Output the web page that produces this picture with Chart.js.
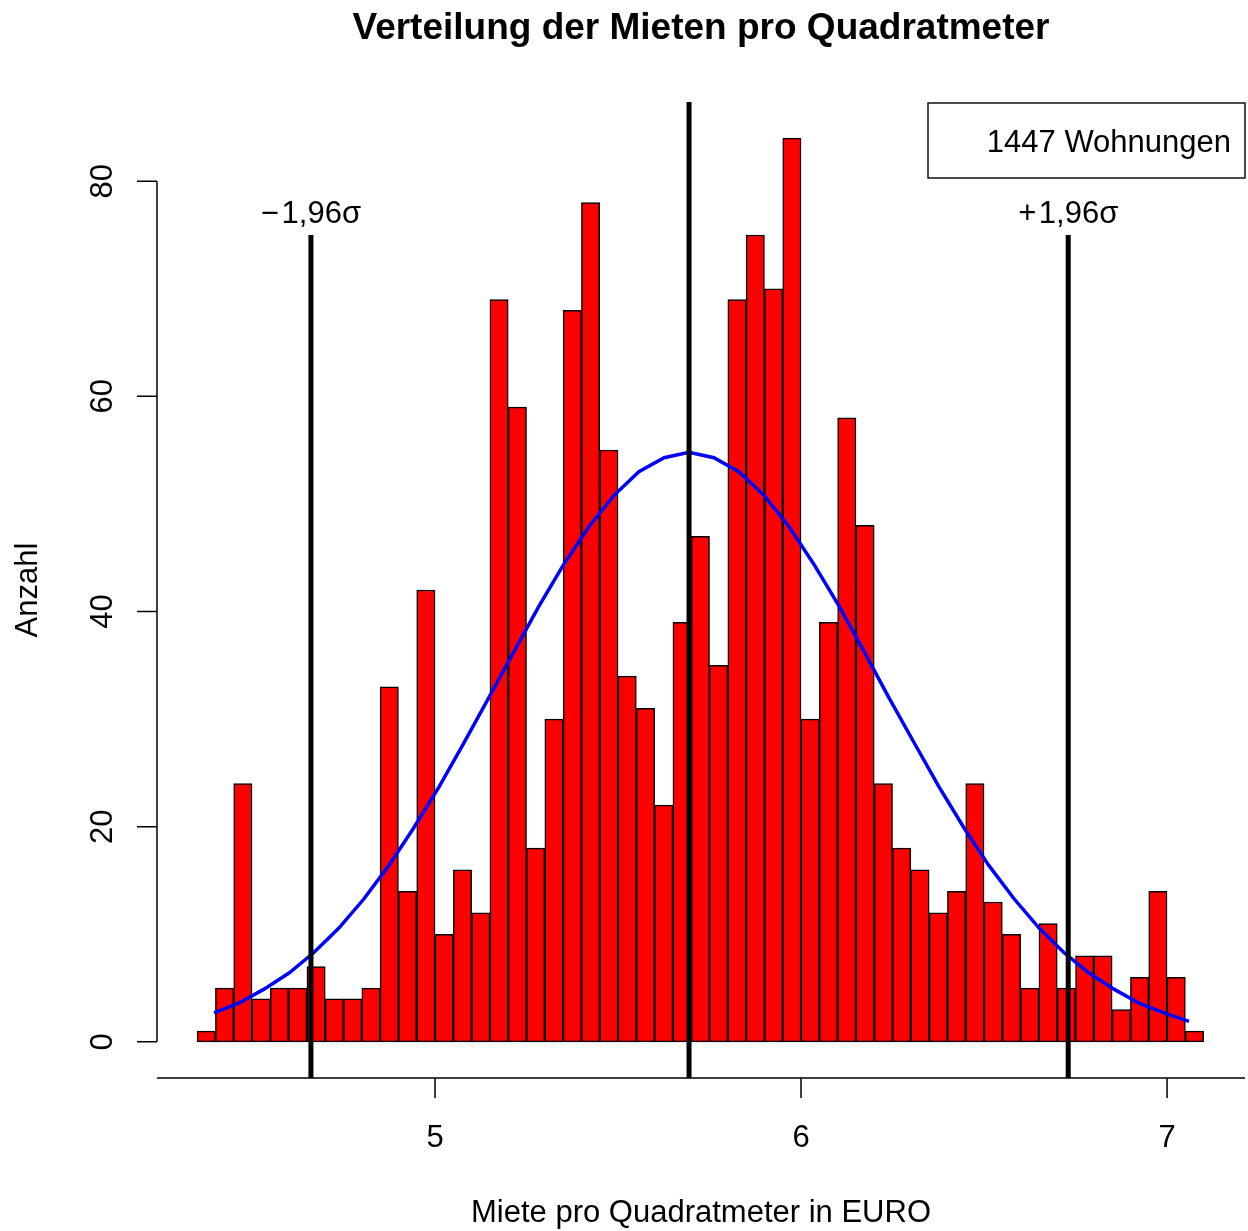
<!DOCTYPE html>
<html>
<head>
<meta charset="utf-8">
<script src="https://cdn.jsdelivr.net/npm/chart.js@4"></script>
<style>
  body { margin: 0; background: #fff; }
  canvas { display: block; }
</style>
</head>
<body>
<canvas id="rentChart" width="1248" height="1231"></canvas>
<script>
// bins of 0.05 EUR, from 4.35 to 7.10 (midpoints)
const binMids = [4.375, 4.425, 4.475, 4.525, 4.575, 4.625, 4.675, 4.725, 4.775, 4.825,
  4.875, 4.925, 4.975, 5.025, 5.075, 5.125, 5.175, 5.225, 5.275, 5.325,
  5.375, 5.425, 5.475, 5.525, 5.575, 5.625, 5.675, 5.725, 5.775, 5.825,
  5.875, 5.925, 5.975, 6.025, 6.075, 6.125, 6.175, 6.225, 6.275, 6.325,
  6.375, 6.425, 6.475, 6.525, 6.575, 6.625, 6.675, 6.725, 6.775, 6.825,
  6.875, 6.925, 6.975, 7.025, 7.075];
const counts = [1, 5, 24, 4, 5, 5, 7, 4, 4, 5,
  33, 14, 42, 10, 16, 12, 69, 59, 18, 30,
  68, 78, 55, 34, 31, 22, 39, 47, 35, 69,
  75, 70, 84, 30, 39, 58, 48, 24, 18, 16,
  12, 14, 24, 13, 10, 5, 11, 5, 8, 8,
  3, 6, 14, 6, 1];

// normal curve
const curveX = [4.396, 4.464, 4.533, 4.601, 4.669, 4.738, 4.806, 4.874, 4.942, 5.011,
  5.079, 5.147, 5.216, 5.284, 5.352, 5.421, 5.489, 5.557, 5.626, 5.694,
  5.762, 5.830, 5.899, 5.967, 6.035, 6.104, 6.172, 6.240, 6.309, 6.377,
  6.445, 6.513, 6.582, 6.650, 6.718, 6.787, 6.855, 6.923, 6.992, 7.060];
const curveY = [2.7, 3.6, 4.9, 6.4, 8.3, 10.6, 13.3, 16.4, 19.9, 23.7,
  27.8, 32.0, 36.3, 40.5, 44.4, 47.9, 50.8, 53.0, 54.3, 54.8,
  54.3, 53.0, 50.8, 47.9, 44.4, 40.5, 36.3, 32.0, 27.8, 23.7,
  19.9, 16.4, 13.3, 10.6, 8.3, 6.4, 4.9, 3.6, 2.7, 1.9];

const meanRent = 5.694;
const sigmaLines = [4.661, 6.730];
const sigmaLabels = ['\u2212\u200a1,96\u03c3', '+\u200a1,96\u03c3'];
const sigmaTop = 75;

const xTicks = [5, 6, 7];
const yTicks = [0, 20, 40, 60, 80];
const xRange = [4.2404, 7.2130];
const yRange = [-3.36, 87.36];

const FONT = "'Liberation Sans', Arial, Helvetica, sans-serif";

function vline(x, top) {
  return {
    type: 'line',
    data: [{ x: x, y: yRange[0] }, { x: x, y: top }],
    borderColor: '#000',
    borderWidth: 5,
    pointRadius: 0,
    fill: false,
    order: 0
  };
}

const axesPlugin = {
  id: 'axesPlugin',
  afterDraw(chart) {
    const ctx = chart.ctx;
    const xs = chart.scales.x;
    const ys = chart.scales.y;
    const area = chart.chartArea;
    ctx.save();
    ctx.strokeStyle = '#000';
    ctx.fillStyle = '#000';
    ctx.lineWidth = 1.5;

    // x axis
    ctx.beginPath();
    ctx.moveTo(area.left, area.bottom);
    ctx.lineTo(area.right, area.bottom);
    xTicks.forEach(function (t) {
      const px = xs.getPixelForValue(t);
      ctx.moveTo(px, area.bottom);
      ctx.lineTo(px, area.bottom + 20);
    });
    // y axis
    const y0 = ys.getPixelForValue(yTicks[0]);
    const y1 = ys.getPixelForValue(yTicks[yTicks.length - 1]);
    ctx.moveTo(area.left, y0);
    ctx.lineTo(area.left, y1);
    yTicks.forEach(function (t) {
      const py = ys.getPixelForValue(t);
      ctx.moveTo(area.left, py);
      ctx.lineTo(area.left - 20, py);
    });
    ctx.stroke();

    ctx.font = '31px ' + FONT;
    ctx.textAlign = 'center';
    ctx.textBaseline = 'alphabetic';
    xTicks.forEach(function (t) {
      ctx.fillText(String(t), xs.getPixelForValue(t), 1147);
    });
    yTicks.forEach(function (t) {
      ctx.save();
      ctx.translate(112, ys.getPixelForValue(t));
      ctx.rotate(-Math.PI / 2);
      ctx.fillText(String(t), 0, 0);
      ctx.restore();
    });

    // axis titles
    ctx.fillText('Miete pro Quadratmeter in EURO', (area.left + area.right) / 2, 1222);
    ctx.save();
    ctx.translate(37, (area.top + area.bottom) / 2);
    ctx.rotate(-Math.PI / 2);
    ctx.fillText('Anzahl', 0, 0);
    ctx.restore();

    // sigma labels
    sigmaLines.forEach(function (v, i) {
      ctx.fillText(sigmaLabels[i], xs.getPixelForValue(v), 223);
    });

    // legend box
    ctx.lineWidth = 1.4;
    ctx.strokeRect(928, 103, 317, 75);
    ctx.textAlign = 'right';
    ctx.fillText('1447 Wohnungen', 1231, 152);

    // title
    ctx.font = 'bold 37px ' + FONT;
    ctx.textAlign = 'center';
    ctx.fillText('Verteilung der Mieten pro Quadratmeter', (area.left + area.right) / 2, 39);
    ctx.restore();
  }
};

const histData = binMids.map(function (m, i) { return { x: m, y: counts[i] }; });
const curveData = curveX.map(function (x, i) { return { x: x, y: curveY[i] }; });

new Chart(document.getElementById('rentChart'), {
  type: 'bar',
  data: {
    datasets: [
      vline(meanRent, yRange[1]),
      vline(sigmaLines[0], sigmaTop),
      vline(sigmaLines[1], sigmaTop),
      {
        type: 'line',
        data: curveData,
        borderColor: '#0000FF',
        borderWidth: 3.5,
        pointRadius: 0,
        tension: 0,
        fill: false,
        order: 1
      },
      {
        type: 'bar',
        data: histData,
        backgroundColor: '#FF0000',
        borderColor: '#000',
        borderWidth: 1.5,
        borderSkipped: false,
        barPercentage: 1,
        categoryPercentage: 1,
        order: 2
      }
    ]
  },
  options: {
    responsive: false,
    animation: false,
    layout: { padding: { left: 157, right: 3, top: 102, bottom: 153 } },
    plugins: {
      legend: { display: false },
      title: { display: false },
      tooltip: { enabled: false }
    },
    scales: {
      x: { type: 'linear', min: xRange[0], max: xRange[1], offset: false, display: false, ticks: { stepSize: 1 } },
      y: { type: 'linear', min: yRange[0], max: yRange[1], display: false }
    }
  },
  plugins: [axesPlugin]
});
</script>
</body>
</html>
